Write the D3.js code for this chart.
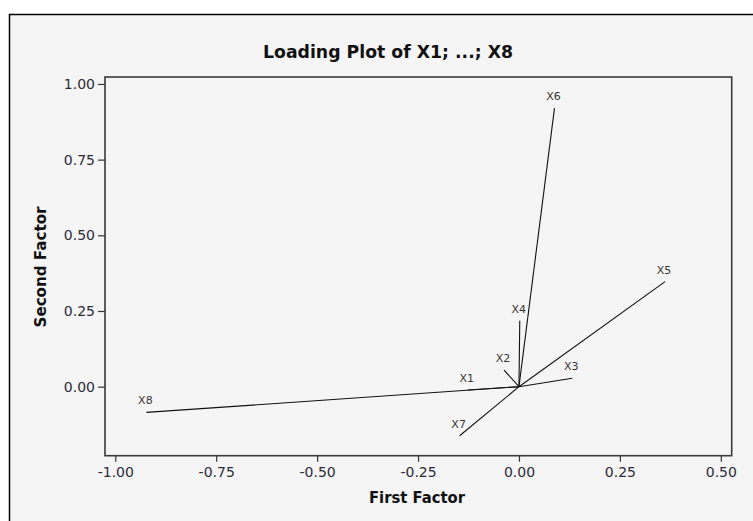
<!DOCTYPE html>
<html>
<head>
<meta charset="utf-8">
<script src="https://cdn.jsdelivr.net/npm/d3@7"></script>
<style>
  body { margin: 0; background: #ffffff; }
  svg { display: block; }
</style>
</head>
<body>
<div class="chart"></div>
<script>
// loadings
var varNames = ["X1", "X2", "X3", "X4", "X5", "X6", "X7", "X8"];
var firstFactor = [-0.127, -0.037, 0.132, 0.002, 0.362, 0.088, -0.147, -0.923];
var secondFactor = [-0.011, 0.055, 0.028, 0.218, 0.347, 0.920, -0.162, -0.085];
var xTicks = [-1.00, -0.75, -0.50, -0.25, 0.00, 0.25, 0.50];
var yTicks = [0.00, 0.25, 0.50, 0.75, 1.00];

var width = 753;
var height = 521;

//////// plot box
var plotLeft = 105, plotRight = 731.7, plotTop = 77, plotBottom = 455.7;

var svg = d3.select(".chart")
    .append("svg")
    .attr("width", width)
    .attr("height", height);

// outer frame
svg.append("rect")
    .attr("x", 9.5)
    .attr("y", 14.5)
    .attr("width", 780)
    .attr("height", 540)
    .attr("fill", "#f5f5f5")
    .attr("stroke", "#000")
    .attr("stroke-width", 1.5);

var x = d3.scaleLinear().domain([-1.0255, 0.527]).range([plotLeft, plotRight]);
var y = d3.scaleLinear().domain([-0.228, 1.023]).range([plotBottom, plotTop]);

// plain hyphen minus like the original
var fmt = d3.formatLocale({ decimal: ".", thousands: ",", grouping: [3], currency: ["", ""], minus: "-" }).format(".2f");

// axes
var xAxis = svg.append("g")
    .attr("transform", "translate(0," + plotBottom + ")")
    .call(d3.axisBottom(x).tickValues(xTicks).tickSize(6).tickPadding(5).tickFormat(fmt));

var yAxis = svg.append("g")
    .attr("transform", "translate(" + plotLeft + ",0)")
    .call(d3.axisLeft(y).tickValues(yTicks).tickSize(7).tickPadding(3).tickFormat(fmt));

[xAxis, yAxis].forEach(function(g) {
    g.select(".domain").remove();
    g.selectAll(".tick line").attr("stroke", "#333").attr("stroke-width", 1.2);
    g.selectAll(".tick text")
        .attr("fill", "#2b2b35")
        .attr("font-family", "DejaVu Sans, sans-serif")
        .attr("font-size", "14px");
});

// plot frame
svg.append("rect")
    .attr("x", plotLeft)
    .attr("y", plotTop)
    .attr("width", plotRight - plotLeft)
    .attr("height", plotBottom - plotTop)
    .attr("fill", "none")
    .attr("stroke", "#3a3a3a")
    .attr("stroke-width", 1.6);

// loading lines from origin
svg.selectAll("line.load")
    .data(varNames)
    .enter()
    .append("line")
    .attr("class", "load")
    .attr("x1", x(0))
    .attr("y1", y(0))
    .attr("x2", function(d, i) { return x(firstFactor[i]); })
    .attr("y2", function(d, i) { return y(secondFactor[i]); })
    .attr("stroke", "#111")
    .attr("stroke-width", 1.1);

// labels
svg.selectAll("text.lab")
    .data(varNames)
    .enter()
    .append("text")
    .attr("class", "lab")
    .attr("x", function(d, i) { return x(firstFactor[i]) - 1; })
    .attr("y", function(d, i) { return y(secondFactor[i]) - 8; })
    .attr("text-anchor", "middle")
    .attr("font-family", "DejaVu Sans, sans-serif")
    .attr("font-size", "11px")
    .attr("fill", "#3a3530")
    .text(function(d) { return d; });

// title
svg.append("text")
    .attr("x", 388)
    .attr("y", 58)
    .attr("text-anchor", "middle")
    .attr("font-family", "DejaVu Sans, sans-serif")
    .attr("font-weight", "bold")
    .attr("font-size", "18px")
    .attr("textLength", 250)
    .attr("lengthAdjust", "spacingAndGlyphs")
    .attr("fill", "#111")
    .text("Loading Plot of X1; ...; X8");

// axis titles
svg.append("text")
    .attr("x", 417)
    .attr("y", 503)
    .attr("text-anchor", "middle")
    .attr("font-family", "DejaVu Sans, sans-serif")
    .attr("font-weight", "bold")
    .attr("font-size", "15px")
    .attr("textLength", 96)
    .attr("lengthAdjust", "spacingAndGlyphs")
    .attr("fill", "#111")
    .text("First Factor");

svg.append("text")
    .attr("transform", "translate(46,267) rotate(-90)")
    .attr("text-anchor", "middle")
    .attr("font-family", "DejaVu Sans, sans-serif")
    .attr("font-weight", "bold")
    .attr("font-size", "15px")
    .attr("textLength", 121)
    .attr("lengthAdjust", "spacingAndGlyphs")
    .attr("fill", "#111")
    .text("Second Factor");
</script>
</body>
</html>
